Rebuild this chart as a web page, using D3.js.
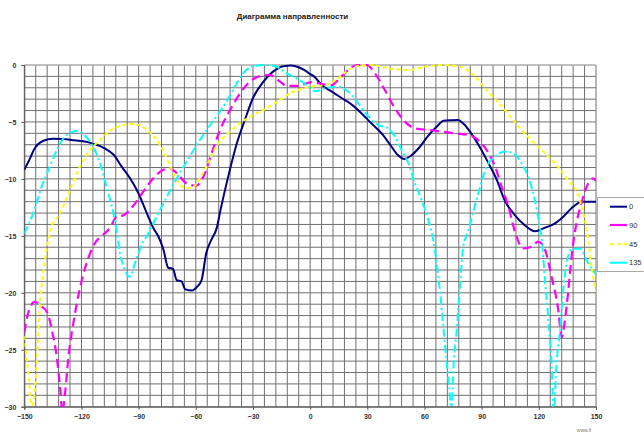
<!DOCTYPE html>
<html><head><meta charset="utf-8">
<script src="https://cdn.jsdelivr.net/npm/d3@7"></script>
<style>
html,body{margin:0;padding:0;background:#fff;}
svg{display:block;font-family:"Liberation Sans",Arial,sans-serif;}
</style></head>
<body>
<svg id="chart" width="644" height="434"></svg>
<script>
const title = "Диаграмма направленности";
const xTicks = [-150,-120,-90,-60,-30,0,30,60,90,120,150];
const yTicks = [0,-5,-10,-15,-20,-25,-30];
const seriesNames = ["0","90","45","135"];

const s0 = [[-150,-9.2],[-147,-8.2],[-145,-7.45],[-140,-6.65],[-135,-6.47],[-130,-6.5],[-124,-6.6],[-119,-6.7],[-114,-6.9],[-108,-7.3],[-103,-7.9],[-99,-8.9],[-94.5,-9.95],[-90,-11.3],[-86,-12.9],[-82,-14.4],[-79.5,-15.1],[-77,-16.2],[-74.5,-17.8],[-72,-17.9],[-70,-18.9],[-67.5,-19],[-65.5,-19.7],[-62,-19.8],[-59.5,-19.5],[-57,-18.9],[-54.5,-16.5],[-52,-15.4],[-49,-14.3],[-47,-12.7],[-43,-9.8],[-38.5,-6.9],[-34,-4.7],[-30,-2.9],[-24.5,-1.45],[-19.5,-0.58],[-14,-0.1],[-10,-0.05],[-6,-0.2],[-3,-0.45],[0,-0.8],[2,-1.0],[6,-1.75],[11,-2.3],[16.5,-2.9],[22,-3.5],[27,-4.25],[32,-5.1],[37.5,-6],[42,-7.0],[46,-7.9],[49.5,-8.25],[53,-7.95],[57.5,-7.2],[62,-6.2],[66.5,-5.4],[70,-4.9],[74,-4.85],[77.5,-4.83],[81,-5.25],[84.5,-6],[89,-7.2],[93.5,-8.6],[98,-10.1],[102,-11.85],[107.5,-13.2],[112.5,-14.05],[118,-14.6],[123,-14.3],[128.5,-13.9],[133,-13.3],[137,-12.6],[142.5,-12.0],[150,-12.0]];

const s90 = [[-150,-23.5],[-148,-21.8],[-144.5,-20.8],[-141,-21.2],[-138,-21.7],[-135.5,-23.3],[-133,-25.6],[-131.3,-28.2],[-130,-30.5],[-128.6,-28.8],[-127,-25.9],[-124.3,-22.7],[-121,-19.75],[-117.3,-17.4],[-113,-15.65],[-108.6,-14.9],[-105,-14.3],[-101.5,-13.3],[-98,-13.2],[-93,-12.4],[-87.5,-11.1],[-82.3,-9.95],[-77,-9.2],[-73.6,-9.07],[-70,-9.5],[-64.8,-10.4],[-60,-10.6],[-55.2,-9.5],[-51.7,-7.75],[-47.3,-5.7],[-42,-3.95],[-36.8,-2.5],[-31.6,-1.46],[-26.3,-0.97],[-21.1,-0.88],[-15.8,-1.46],[-12.3,-1.84],[-7.1,-1.84],[-1.8,-1.6],[1,-1.5],[6,-1.67],[11.5,-1.76],[14.7,-1.3],[20,-0.44],[24.4,0],[29.6,0],[34,-0.73],[39.2,-2.2],[44.5,-3.8],[49.7,-4.97],[55,-5.56],[62,-5.7],[69,-5.85],[76,-6.0],[83,-6.15],[88.2,-6.6],[92.6,-7.46],[97,-8.9],[100.5,-10.7],[104,-12.4],[107.4,-14.6],[111.8,-16.1],[116.2,-15.95],[119.7,-15.5],[123.2,-16.2],[126.7,-18.6],[130.2,-21.5],[132,-23.9],[133.7,-22.4],[135.5,-19.75],[137.2,-16.8],[139,-14.6],[142.4,-12.1],[145.9,-10.4],[148.5,-9.95],[150,-10.2]];

const s45 = [[-150,-23.8],[-148,-27],[-146,-29.9],[-144.8,-29.2],[-143.5,-26.2],[-141.8,-21.2],[-139.1,-17.1],[-136.5,-14.6],[-131.3,-13.0],[-126,-10.97],[-120.8,-8.93],[-115.5,-7.46],[-110.3,-6.6],[-105,-5.77],[-99.8,-5.36],[-93.7,-5.18],[-88.4,-5.4],[-83.2,-6.06],[-78.8,-7.0],[-75.3,-8.2],[-71.8,-9.5],[-68.3,-10.5],[-64.8,-10.8],[-61.3,-10.7],[-57.8,-9.95],[-54.3,-8.9],[-50.8,-7.6],[-47.3,-6.7],[-43,-6],[-36.8,-5.1],[-29.9,-4.4],[-22.8,-3.8],[-15.8,-3.07],[-10.6,-2.5],[-3.6,-2.05],[2,-1.87],[7.8,-1.76],[14.7,-1.17],[20,-0.44],[25.2,-0.09],[32.3,0],[41,-0.29],[51.5,-0.44],[60.2,-0.15],[70.7,0],[79.5,-0.2],[86.5,-1.02],[93.4,-2.34],[102.2,-3.95],[110.9,-5.7],[119.7,-7.17],[128.4,-8.63],[135.4,-10.1],[140.6,-11.4],[143.3,-13],[145.5,-14.8],[147.5,-17.5],[150,-19.9]];

const s135 = [[-150,-14.8],[-145.3,-13],[-140.9,-10.7],[-136.5,-8.9],[-132.2,-7.2],[-127.8,-6.15],[-122.5,-5.8],[-117.3,-6.35],[-113.8,-7.2],[-110.3,-8.63],[-106.8,-10.7],[-104.1,-12.4],[-101.5,-14.6],[-99.8,-16.5],[-97.2,-18],[-94.5,-18.6],[-91.9,-17.4],[-88.4,-15.8],[-85.3,-14.9],[-80.5,-13.3],[-75.3,-11.6],[-70,-9.95],[-64.8,-8.5],[-59.5,-7.0],[-54.3,-5.7],[-49.1,-4.5],[-43.8,-3.2],[-39.5,-1.9],[-35.1,-0.73],[-29.9,-0.09],[-22.8,0],[-17.6,-0.15],[-12.3,-0.73],[-7.1,-1.17],[-1.8,-1.76],[2.6,-2.3],[7.8,-2.05],[14.7,-1.9],[20,-2.34],[25.2,-3.36],[30.5,-4.5],[35.8,-5.27],[41,-5.56],[44.5,-6.3],[48,-7.46],[51.5,-8.6],[55,-10.4],[58.5,-11.85],[62,-13.6],[64.2,-15],[66.4,-17.4],[68.2,-20],[69.9,-23],[71.7,-26.2],[72.9,-28.2],[74.2,-30.5],[75.1,-26.8],[76.9,-23.3],[78.6,-19.5],[80.3,-15.95],[82.5,-14.8],[88.2,-11.3],[92.6,-8.9],[97,-8.05],[102.2,-7.6],[106.6,-7.75],[110.9,-8.6],[114.4,-9.8],[117.9,-11.85],[120.5,-14.2],[121.4,-15.07],[123.2,-18.9],[124.9,-22.1],[126.7,-26.2],[127.8,-30.5],[129.3,-26.2],[131.1,-23.3],[132.8,-19.75],[134.6,-17.4],[137.2,-16.2],[141.5,-16.1],[145.9,-17.4],[150,-18.4]];

const seriesData = [s0, s90, s45, s135];
const seriesColors = ["#000080","#FF00FF","#FFFF00","#00FFFF"];
const seriesDash = [null,"9,5","4,3","8,3,2,3"];
const seriesWidth = [2,2.2,2,2];

const svg = d3.select("#chart");
const L = 24.3, R = 596, T = 65, B = 406.7;
const x = d3.scaleLinear().domain([-150,150]).range([L,R]);
const y = d3.scaleLinear().domain([-30,0]).range([B,T]);

svg.append("defs").append("clipPath").attr("id","clip")
  .append("rect").attr("x",L).attr("y",T-2).attr("width",R-L).attr("height",B-T+2);

// grid
const gx = d3.range(-150,151,6);
const gy = d3.range(-30,1,1);
const grid = svg.append("g");
grid.selectAll("line.v").data(gx).join("line")
  .attr("x1",d=>x(d)).attr("x2",d=>x(d)).attr("y1",T).attr("y2",B)
  .attr("stroke","#707070").attr("stroke-width",1);
grid.selectAll("line.h").data(gy).join("line")
  .attr("y1",d=>y(d)).attr("y2",d=>y(d)).attr("x1",L).attr("x2",R)
  .attr("stroke","#707070").attr("stroke-width",1);
svg.append("line").attr("x1",L).attr("x2",R).attr("y1",T).attr("y2",T).attr("stroke","#c8c8c8");

// axes
const xAxis = d3.axisBottom(x).tickValues(xTicks).tickSize(3).tickFormat(d3.format("d"));
const yAxis = d3.axisLeft(y).tickValues(yTicks).tickSize(3).tickFormat(d3.format("d"));
const gxa = svg.append("g").attr("transform",`translate(0,${B})`).call(xAxis);
const gya = svg.append("g").attr("transform",`translate(${L},0)`).call(yAxis);
[gxa,gya].forEach(g=>{
  g.selectAll("path").attr("stroke","#555");
  g.selectAll("line").attr("stroke","#555");
  g.selectAll("text").attr("font-size","7px").attr("font-weight","bold").attr("fill","#333")
   .attr("font-family","'Liberation Sans',Arial,sans-serif");
});
gxa.selectAll("text").attr("dy","0.9em");
gya.selectAll("text").attr("dx","-2").attr("dy","0.35em");

// lines
const line = d3.line().x(d=>x(d[0])).y(d=>y(d[1])).curve(d3.curveMonotoneX);
const lg = svg.append("g").attr("clip-path","url(#clip)");
seriesData.forEach((s,i)=>{
  lg.append("path").datum(s).attr("d",line)
    .attr("fill","none").attr("stroke",seriesColors[i])
    .attr("stroke-width",seriesWidth[i])
    .attr("stroke-dasharray",seriesDash[i])
    .attr("stroke-linejoin","round");
});

// title
svg.append("text").attr("x",292.5).attr("y",19).attr("text-anchor","middle")
  .attr("font-size","8px").attr("font-weight","bold").attr("fill","#222").text(title);

// legend
const leg = svg.append("g");
leg.append("rect").attr("x",597.5).attr("y",197.5).attr("width",52).attr("height",74)
  .attr("fill","#fff").attr("stroke","#aaa");
const legY = [206.7,225,244.3,262.7];
seriesNames.forEach((n,i)=>{
  leg.append("line").attr("x1",610).attr("x2",627).attr("y1",legY[i]).attr("y2",legY[i])
    .attr("stroke",seriesColors[i]).attr("stroke-width",seriesWidth[i])
    .attr("stroke-dasharray",i===2?"4,3":null);
  leg.append("text").attr("x",629).attr("y",legY[i]).attr("dy","0.35em")
    .attr("font-size","7.5px").attr("fill","#333").text(n);
});

// tiny footer
svg.append("text").attr("x",584).attr("y",432).attr("text-anchor","middle")
  .attr("font-size","5px").attr("fill","#777").text("www.fi");
</script>
</body></html>
